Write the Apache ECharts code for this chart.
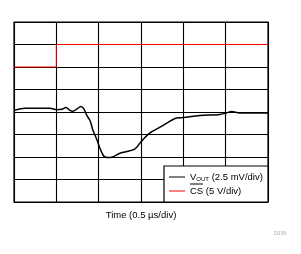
<!DOCTYPE html>
<html lang="en">
<head>
    <meta charset="UTF-8">
    <title>VOUT / CS</title>
    <script src="https://cdn.jsdelivr.net/npm/echarts@6/dist/echarts.min.js"></script>
    <style>
        html, body { margin: 0; padding: 0; background: #fff; }
    </style>
</head>
<body>
<div id="main" style="width:301px;height:254px;"></div>
<script type="text/javascript">
    // x in divisions (0.5 us/div), y in divisions from bottom of screen
    var voutX = [0, 0.26, 0.85, 1.01, 1.13, 1.23, 1.32, 1.39, 1.49, 1.58, 1.65, 1.72, 1.80, 1.86, 1.96, 2.03, 2.10, 2.15, 2.22, 2.31, 2.50, 2.85, 3.00, 3.21, 3.40, 3.56, 3.84, 3.99, 4.39, 4.86, 5.02, 5.14, 5.33, 6.0];
    var voutY = [4.08, 4.17, 4.17, 4.10, 4.12, 4.20, 4.07, 4.03, 4.14, 4.24, 4.14, 3.85, 3.60, 3.21, 2.76, 2.39, 2.10, 2.00, 1.98, 1.99, 2.17, 2.35, 2.68, 3.07, 3.27, 3.45, 3.73, 3.75, 3.84, 3.89, 3.96, 4.02, 3.96, 3.96];
    var csX = [0, 1, 1, 6];
    var csY = [6, 6, 7, 7];
    var legendNames = ['VOUT', 'CS'];
    var legendTexts = ['V{sub|OUT} (2.5 mV/div)', 'CS (5 V/div)'];

    function pairs(xs, ys) {
        var out = [];
        for (var i = 0; i < xs.length; i++) out.push([xs[i], ys[i]]);
        return out;
    }

    var myChart = echarts.init(document.getElementById('main'));
    var option = {
        animation: false,
        textStyle: { fontFamily: 'Liberation Sans, Arial, sans-serif' },
        grid: {
            left: 14, right: 33, top: 22, bottom: 52,
            show: true, borderColor: '#000', borderWidth: 1.2
        },
        xAxis: {
            type: 'value', min: 0, max: 6, interval: 1,
            axisLabel: { show: false }, axisTick: { show: false },
            axisLine: { show: false },
            splitLine: { lineStyle: { color: '#000', width: 1.1 } },
            name: 'Time (0.5 \u00b5s/div)', nameLocation: 'middle', nameGap: 8,
            nameTextStyle: { color: '#000', fontSize: 9.5 }
        },
        yAxis: {
            type: 'value', min: 0, max: 8, interval: 1,
            axisLabel: { show: false }, axisTick: { show: false },
            axisLine: { show: false },
            splitLine: { lineStyle: { color: '#000', width: 1.1 } }
        },
        legend: {
            orient: 'vertical', left: 169, top: 171,
            icon: 'rect', itemWidth: 16, itemHeight: 1, itemGap: 2, padding: 0,
            z: 20,
            data: legendNames,
            formatter: function (name) {
                return legendTexts[legendNames.indexOf(name)];
            },
            textStyle: {
                color: '#000', fontSize: 9.5, lineHeight: 12,
                rich: { sub: { fontSize: 6, padding: [4, 0, 0, 0], color: '#000' } }
            }
        },
        graphic: [
            {
                type: 'rect', z: 10,
                shape: { x: 164, y: 166, width: 104, height: 36 },
                style: { fill: '#fff', stroke: '#000', lineWidth: 1.2 }
            },
            {
                type: 'line', z: 30,
                shape: { x1: 190, y1: 184, x2: 203, y2: 184 },
                style: { stroke: '#000', lineWidth: 1 }
            },
            {
                type: 'text', left: 274, top: 231, z: 30,
                style: { text: 'D039', fill: '#aaa', fontSize: 5 }
            }
        ],
        series: [
            {
                name: 'VOUT', type: 'line', data: pairs(voutX, voutY),
                symbol: 'none', smooth: 0.3,
                lineStyle: { color: '#000', width: 1.5 },
                itemStyle: { color: '#000' }, z: 5
            },
            {
                name: 'CS', type: 'line', data: pairs(csX, csY),
                symbol: 'none',
                lineStyle: { color: '#f00', width: 1 },
                itemStyle: { color: '#f00' }, z: 4
            }
        ]
    };
    myChart.setOption(option);
</script>
</body>
</html>
